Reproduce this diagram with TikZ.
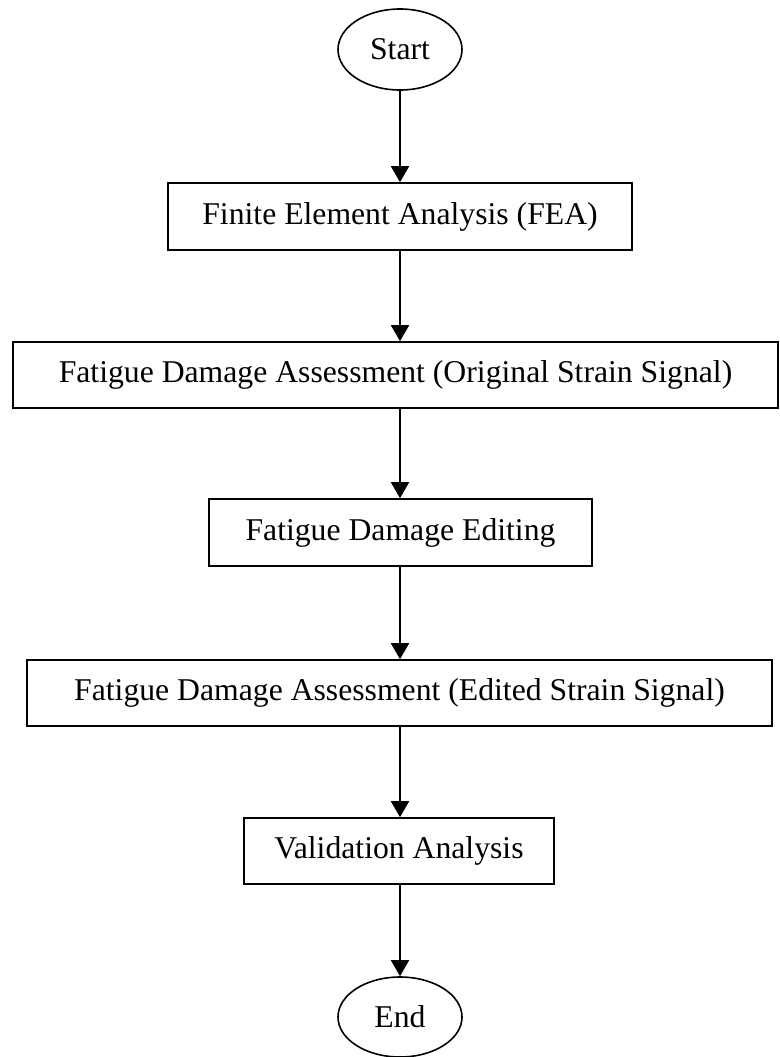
\documentclass[tikz,border=0pt]{standalone}
\usepackage{fontspec}
\setmainfont{Liberation Serif}
\usetikzlibrary{arrows.meta,shapes.geometric}
\begin{document}
\begin{tikzpicture}[x=1pt,y=-1pt,
  txt/.style={font=\fontsize{31.7}{36}\selectfont},
  box/.style={txt,draw,line width=1.6pt,rectangle,inner sep=0pt},
  term/.style={txt,draw,line width=1.6pt,ellipse,inner sep=0pt,minimum width=124pt,minimum height=81pt},
  arr/.style={line width=1.8pt,-{Triangle[width=18pt,length=16pt]}}]
\useasboundingbox (0,0) rectangle (779,1057);
\node[term] (start) at (400,49.5) {Start};
\node[box,minimum width=464pt,minimum height=67pt] (fea) at (400,216.5) {Finite Element Analysis (FEA)};
\node[box,minimum width=765pt,minimum height=66pt] (orig) at (395.5,375) {Fatigue Damage Assessment (Original Strain Signal)};
\node[box,minimum width=383pt,minimum height=67pt] (edit) at (400.5,532.5) {Fatigue Damage Editing};
\node[box,minimum width=745pt,minimum height=66pt] (edited) at (399.5,693) {Fatigue Damage Assessment (Edited Strain Signal)};
\node[box,minimum width=310pt,minimum height=66pt] (valid) at (399,851) {Validation Analysis};
\node[term,minimum height=80pt] (end) at (400,1017) {End};
\draw[arr] (start.south) -- (start.south |- fea.north);
\draw[arr] (start.south |- fea.south) -- (start.south |- orig.north);
\draw[arr] (start.south |- orig.south) -- (start.south |- edit.north);
\draw[arr] (start.south |- edit.south) -- (start.south |- edited.north);
\draw[arr] (start.south |- edited.south) -- (start.south |- valid.north);
\draw[arr] (start.south |- valid.south) -- (end.north);
\end{tikzpicture}
\end{document}
